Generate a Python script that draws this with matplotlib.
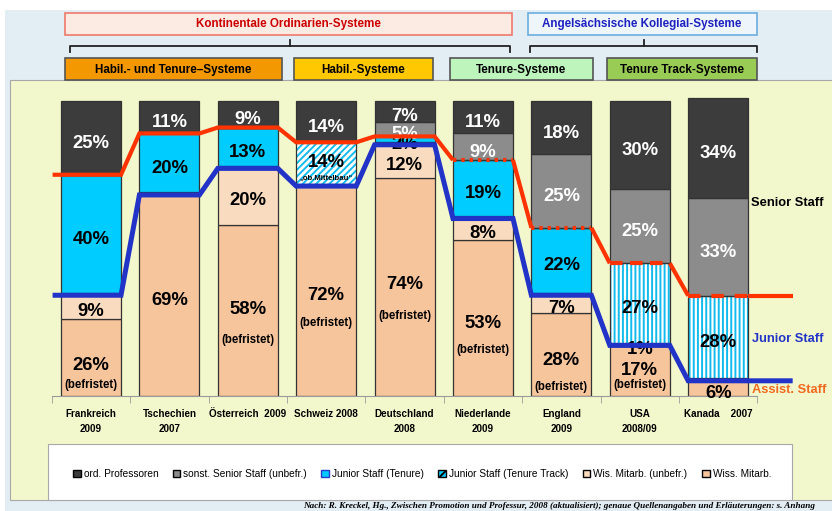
import matplotlib
matplotlib.use("Agg")
import matplotlib.pyplot as plt
from matplotlib import font_manager
from matplotlib.patches import Rectangle, Patch
import matplotlib.transforms as mtransforms
import numpy as np

# ---------------- data ----------------
countries = ["Frankreich\n2009", "Tschechien\n2007", "Österreich  2009", "Schweiz 2008",
             "Deutschland\n2008", "Niederlande\n2009", "England\n2009", "USA\n2008/09",
             "Kanada    2007"]
wiss_befr = [26, 69, 58, 72, 74, 53, 28, 17, 6]        # Wiss. Mitarb. (befristet)
wis_unbefr = [9, 0, 20, 0, 12, 8, 7, 1, 0]             # Wis. Mitarb. (unbefr.)
junior_tenure = [40, 20, 13, 0, 2, 19, 22, 0, 0]       # Junior Staff (Tenure)
junior_tt = [0, 0, 0, 14, 0, 0, 0, 27, 28]             # Junior Staff (Tenure Track)
sonst_senior = [0, 0, 0, 0, 5, 9, 25, 25, 33]          # sonst. Senior Staff (unbefr.)
ord_prof = [25, 11, 9, 14, 7, 11, 18, 30, 34]          # ord. Professoren
befristet_note = [True, False, True, True, True, True, True, True, False]

legend_labels = ["ord. Professoren", "sonst. Senior Staff (unbefr.)", "Junior Staff (Tenure)",
                 "Junior Staff (Tenure Track)", "Wis. Mitarb. (unbefr.)", "Wiss. Mitarb."]
header_top = ["Kontinentale Ordinarien-Systeme", "Angelsächsische Kollegial-Systeme"]
header_sub = ["Habil.- und Tenure\u2013Systeme", "Habil.-Systeme", "Tenure-Systeme",
              "Tenure Track-Systeme"]
footnote = ("Nach: R. Kreckel, Hg., Zwischen Promotion und Professur, 2008 (aktualisiert); "
            "genaue Quellenangaben und Erläuterungen: s. Anhang")

# ---------------- fonts ----------------
def pick(names):
    for n in names:
        try:
            font_manager.findfont(font_manager.FontProperties(family=n), fallback_to_default=False)
            return n
        except Exception:
            pass
    return "DejaVu Sans"

SANS = pick(["Liberation Sans", "Arial", "DejaVu Sans"])
NARROW = pick(["Liberation Sans Narrow", "Arial Narrow", SANS])
NS = 1.0 if NARROW != SANS else 0.84
SERIF = pick(["Liberation Serif", "Times New Roman", "DejaVu Serif"])
plt.rcParams["hatch.linewidth"] = 1.4

# ---------------- colours ----------------
C_PROF = "#3c3c3c"
C_SONST = "#8c8c8c"
C_JT = "#00ccff"
C_TT_HATCH = "#11bbee"
C_WIS = "#f9dcbf"
C_WISS = "#f7c59c"
C_RED = "#ff3300"
C_BLUE = "#2233c8"

W, H = 832, 511
fig = plt.figure(figsize=(W / 100, H / 100), dpi=100)
fig.patch.set_facecolor("white")

bg = fig.add_axes([0, 0, 1, 1])
bg.set_xlim(0, W)
bg.set_ylim(H, 0)
bg.axis("off")

bg.add_patch(Rectangle((5, 10), W, H, fc="#e2edf4", ec="none"))
bg.add_patch(Rectangle((10, 80), W, 420, fc="#f3f8cc", ec="#a8a8a8", lw=0.8))

# header boxes
bg.add_patch(Rectangle((65, 13), 447, 22, fc="#fcebe3", ec="#f07a6a", lw=1.2))
bg.text(288, 24, header_top[0], ha="center", va="center", family=NARROW, weight="bold",
        size=10 * NS, color="#cc0000")
bg.add_patch(Rectangle((528, 13), 229, 22, fc="#eef6fb", ec="#6aaee0", lw=1.2))
bg.text(642, 24, header_top[1], ha="center", va="center", family=NARROW, weight="bold",
        size=10 * NS, color="#1e22c0")

# braces
for x0, x1 in [(70, 510), (530, 757)]:
    xm = (x0 + x1) / 2
    bg.plot([x0, x0, x1, x1], [52, 46, 46, 52], color="#222222", lw=1.3)
    bg.plot([xm, xm], [46, 40], color="#222222", lw=1.3)

sub_boxes = [(65, 282, "#f39800"), (294, 433, "#ffc800"), (450, 593, "#bdf5bd"),
             (607, 757, "#99cc55")]
for (x0, x1, fc), lab_ in zip(sub_boxes, header_sub):
    bg.add_patch(Rectangle((x0, 58), x1 - x0, 22, fc=fc, ec="#555555", lw=1.2))
    bg.text((x0 + x1) / 2, 69.5, lab_, ha="center", va="center", family=NARROW,
            weight="bold", size=10 * NS, color="black")

# legend box
bg.add_patch(Rectangle((48, 444), 744, 56, fc="white", ec="#a8a8a8", lw=0.8))

# right side labels
bg.text(751, 203, "Senior Staff", ha="left", va="center", family=NARROW, weight="bold",
        size=11 * NS, color="black")
bg.text(752, 339, "Junior Staff", ha="left", va="center", family=NARROW, weight="bold",
        size=11 * NS, color=C_BLUE)
bg.text(752, 390, "Assist. Staff", ha="left", va="center", family=NARROW, weight="bold",
        size=11 * NS, color="#f06a1e")

bg.text(815, 506, footnote, ha="right", va="center", family=SERIF, style="italic",
        weight="bold", size=6.6, color="black")

# ---------------- bar axes ----------------
PX0, PXU = 51.8, 78.4          # px of x=-0.5, px per category
YB, YU = 396.0, 2.95           # px of y=0, px per percent
XMIN, XMAX, YMAX = -0.5, 9.0, 102
ax = fig.add_axes([PX0 / W, (H - YB) / H, (XMAX - XMIN) * PXU / W, YMAX * YU / H])
ax.set_xlim(XMIN, XMAX)
ax.set_ylim(0, YMAX)
ax.patch.set_alpha(0)
ax.set_zorder(2)
for s in ["top", "left", "right"]:
    ax.spines[s].set_visible(False)
ax.spines["bottom"].set_bounds(-0.5, 8.5)
ax.spines["bottom"].set_color("#9a9a9a")
ax.set_yticks([])
x = np.arange(len(countries))
ax.set_xticks(x)
ax.set_xticklabels(countries, family=NARROW, weight="bold", size=8.5 * NS, linespacing=1.55)
ax.set_xticks(np.arange(-0.5, 9.0, 1.0), minor=True)
ax.tick_params(axis="x", which="major", length=0, pad=9.5)
ax.tick_params(axis="x", which="minor", length=5, color="#9a9a9a")

bw = 60 / PXU
EC = "#333333"
series = [
    (wiss_befr, C_WISS), (wis_unbefr, C_WIS), (junior_tenure, C_JT),
    (junior_tt, None), (sonst_senior, C_SONST), (ord_prof, C_PROF),
]
bottom = np.zeros(len(x))
bottoms = []
for vals, col in series:
    vals = np.array(vals, dtype=float)
    bottoms.append(bottom.copy())
    if col is None:
        bars = ax.bar(x, vals, bw, bottom=bottom, color="white", edgecolor=C_TT_HATCH,
                      linewidth=0, zorder=2)
        for i, p in enumerate(bars):
            p.set_hatch("/////" if i == 3 else "||||")
        ax.bar(x, vals, bw, bottom=bottom, fill=False, edgecolor=EC, linewidth=0.9, zorder=2.1)
    else:
        ax.bar(x, vals, bw, bottom=bottom, color=col, edgecolor=EC, linewidth=0.9, zorder=2)
    bottom = bottom + vals

# ---------------- labels ----------------
def px2pt(v):
    return -v * 0.72  # px down -> points offset (negative = down)

BASE = 3.0  # visual correction, px down
num_dy = [4.4, 3.0, -4.4, 3.2, -4.9, 2.2, 2.3, -3.9, 3.0]
bef_dy = [24.4, 0, 26.6, 30.2, 26.0, 29.2, 29.3, 11.1, 0]

def lab(xi, yv, txt, dy, color, size=13.3):
    ax.annotate(txt, (xi, yv), xytext=(0, px2pt(dy + BASE)), textcoords="offset points",
                ha="center", va="center", family=SANS, weight="bold", size=size,
                color=color, zorder=3)

for si, (vals, col) in enumerate(series):
    for i in range(len(x)):
        v = vals[i]
        if v <= 0:
            continue
        yc = bottoms[si][i] + v / 2
        tcol = "white" if col in (C_PROF, C_SONST) else "black"
        if si == 0:
            lab(i, yc, f"{v}%", num_dy[i], tcol)
            if befristet_note[i]:
                lab(i, yc, "(befristet)", bef_dy[i], tcol, size=8.3)
        elif si == 3 and i == 3:
            lab(i, yc, f"{v}%", -3.0, tcol)
            lab(i, yc, "\u201eob.Mittelbau\u201c", 12.0, tcol, size=5.6)
        else:
            lab(i, yc, f"{v}%", 2.5, tcol)

# ---------------- staff boundary lines ----------------
red_lvl = np.array(wiss_befr) + np.array(wis_unbefr) + np.array(junior_tenure) + np.array(junior_tt)
blue_lvl = np.array(wiss_befr) + np.array(wis_unbefr)

def polyline(levels):
    xs = [XMIN + 0.01]
    ys = [levels[0]]
    for i, lv in enumerate(levels):
        xs += [i - bw / 2, i + bw / 2]
        ys += [lv, lv]
    xs.append(8.95)
    ys.append(levels[-1])
    return np.array(xs), np.array(ys)

blue_tr = mtransforms.offset_copy(ax.transData, fig=fig, x=0, y=-2.5, units="dots")
bx, by = polyline(blue_lvl)
ax.plot(bx, by, color=C_BLUE, lw=3.6, solid_joinstyle="miter", solid_capstyle="butt",
        zorder=4, clip_on=False, transform=blue_tr)

rx, ry = polyline(red_lvl)
red_style = ["-", "-", "-", "-", "-", (0, (0.8, 1.2)), (0, (0.8, 1.2)), (0, (3, 1.8)), (0, (3, 2.6))]
segs = []
for k in range(len(rx) - 1):
    if k >= 1 and (k - 1) % 2 == 0 and (k - 1) // 2 < len(red_lvl):
        i = (k - 1) // 2
        segs.append((k, k + 1, red_style[i]))
    else:
        segs.append((k, k + 1, "-"))

def red_solid(a, b):
    ax.plot(rx[a:b + 1], ry[a:b + 1], color=C_RED, lw=3.0, solid_joinstyle="miter",
            solid_capstyle="butt", zorder=4.5, clip_on=False)

run = None
for a, b, st in segs:
    if st == "-":
        if run is None:
            run = [a, b]
        else:
            run[1] = b
    else:
        if run is not None:
            red_solid(*run)
            run = None
        ax.plot(rx[a:b + 1], ry[a:b + 1], color=C_RED, lw=3.0, linestyle=st,
                dash_capstyle="butt", zorder=4.5, clip_on=False)
if run is not None:
    red_solid(*run)

# ---------------- legend ----------------
handles = [
    Patch(fc=C_PROF, ec="black", lw=1.0),
    Patch(fc=C_SONST, ec="black", lw=1.0),
    Patch(fc=C_JT, ec="#2a3ad0", lw=1.0),
    Patch(fc=C_JT, ec="black", lw=1.0, hatch="//"),
    Patch(fc=C_WIS, ec="black", lw=1.0),
    Patch(fc=C_WISS, ec="black", lw=1.0),
]
leg = bg.legend(handles, legend_labels, loc="center", bbox_to_anchor=(422, 474),
                bbox_transform=bg.transData, ncol=6, frameon=False, handlelength=0.75,
                handleheight=0.75, handletextpad=0.3, columnspacing=1.42,
                prop=font_manager.FontProperties(family=NARROW, size=8.7 * NS))

fig.savefig("out.png", dpi=100)
